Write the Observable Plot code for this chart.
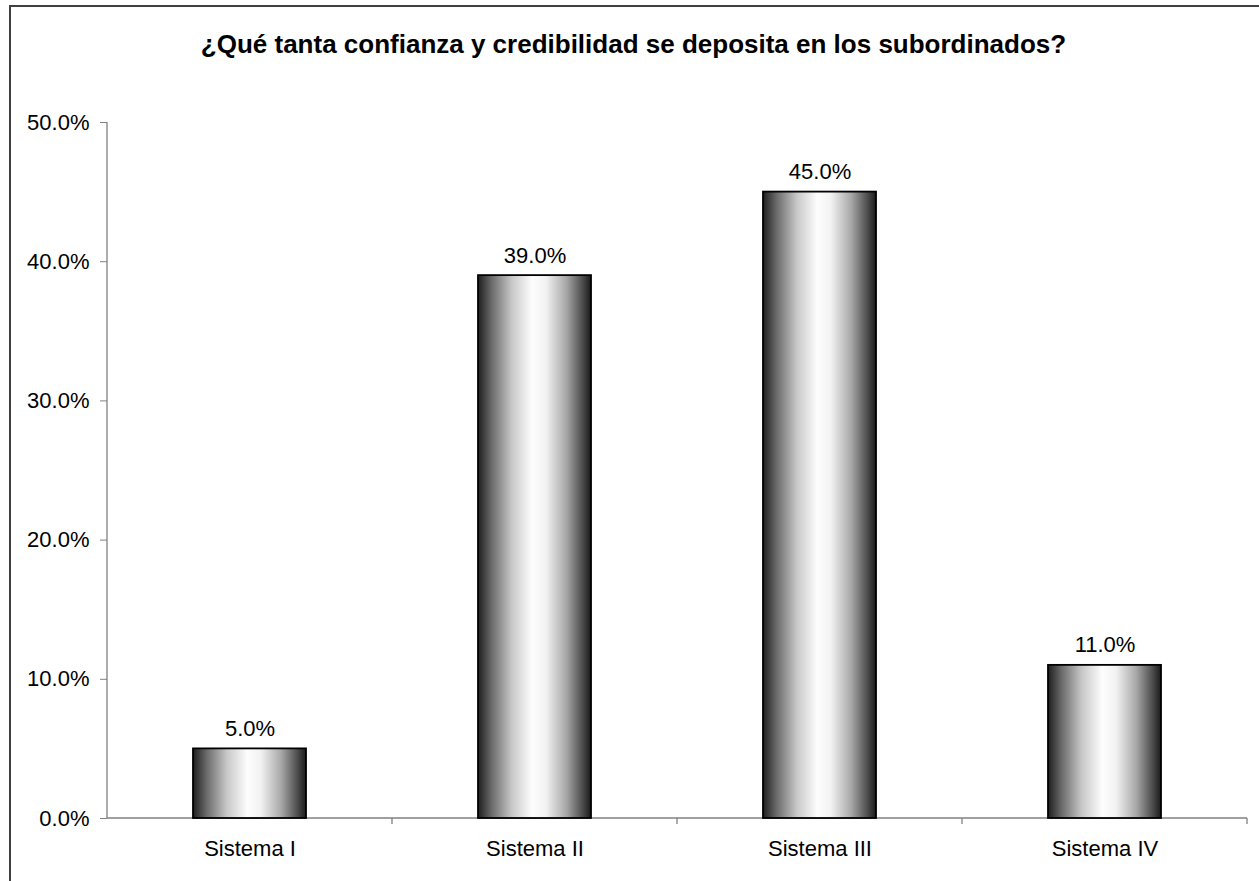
<!DOCTYPE html>
<html>
<head>
<meta charset="utf-8">
<script src="https://cdn.jsdelivr.net/npm/d3@7"></script>
<script src="https://cdn.jsdelivr.net/npm/@observablehq/plot@0.6"></script>
<style>
  html, body { margin: 0; padding: 0; background: #fff; }
  #wrap { position: relative; width: 1259px; height: 881px; overflow: hidden; font-family: "Liberation Sans", Arial, sans-serif; }
  #frame { position: absolute; left: 9px; top: 5px; width: 1400px; height: 1000px; border: 2px solid #404040; box-sizing: border-box; }
  #title { position: absolute; left: 4px; top: 0; width: 1259px; height: 90px; text-align: center; font-weight: bold; font-size: 26px; line-height: 26px; padding-top: 31px; box-sizing: border-box; color: #000; }
  #chart { position: absolute; left: 0; top: 90px; }
</style>
</head>
<body>
<div id="wrap">
  <div id="frame"></div>
  <div id="title">¿Qué tanta confianza y credibilidad se deposita en los subordinados?</div>
  <div id="chart"></div>
</div>
<script>
const categories = ["Sistema I", "Sistema II", "Sistema III", "Sistema IV"];
const values = [0.05, 0.39, 0.45, 0.11];
const yTicks = [0, 0.1, 0.2, 0.3, 0.4, 0.5];

const data = categories.map((c, i) => ({cat: c, val: values[i]}));
const fmt = d3.format(".1%");

function decorations(index, scales, values, dims) {
  const g = d3.create("svg:g");
  const defs = g.append("defs");
  const grad = defs.append("linearGradient").attr("id", "barGrad")
    .attr("x1", "0").attr("x2", "1").attr("y1", "0").attr("y2", "0");
  [[0, "#1e1e1e"], [0.12, "#6a6a6a"], [0.3, "#c8c8c8"], [0.48, "#fdfdfd"], [0.6, "#f2f2f2"], [0.78, "#a8a8a8"], [0.92, "#505050"], [1, "#1a1a1a"]]
    .forEach(([o, c]) => grad.append("stop").attr("offset", o).attr("stop-color", c));
  const x0 = dims.marginLeft, x1 = dims.width - dims.marginRight;
  const yb = dims.height - dims.marginBottom, yt = dims.marginTop;
  const axisColor = "#808080";
  g.append("line").attr("x1", x0).attr("x2", x0).attr("y1", yt).attr("y2", yb)
    .attr("stroke", axisColor).attr("stroke-width", 1.3);
  g.append("line").attr("x1", x0).attr("x2", x1).attr("y1", yb).attr("y2", yb)
    .attr("stroke", axisColor).attr("stroke-width", 1.3);
  const n = categories.length;
  for (let k = 1; k <= n; k++) {
    const xx = x0 + k * (x1 - x0) / n;
    g.append("line").attr("x1", xx).attr("x2", xx).attr("y1", yb).attr("y2", yb + 6)
      .attr("stroke", axisColor).attr("stroke-width", 1.3);
  }
  return g.node();
}

const chart = Plot.plot({
  width: 1259,
  height: 791,
  marginTop: 32,
  marginBottom: 63,
  marginLeft: 107,
  marginRight: 12,
  style: {fontFamily: "'Liberation Sans', Arial, sans-serif", fontSize: "22px", color: "#000", background: "transparent", overflow: "visible"},
  x: {domain: categories, padding: 0, tickSize: 0, tickPadding: 22, label: null},
  y: {domain: [0, 0.5], ticks: yTicks, tickFormat: fmt, tickSize: 7, tickPadding: 11, label: null},
  marks: [
    decorations,
    Plot.barY(data, {x: "cat", y: "val", fill: "url(#barGrad)", stroke: "#000", strokeWidth: 1.8, insetLeft: 86, insetRight: 86}),
    Plot.text(data, {x: "cat", y: "val", text: d => fmt(d.val), dy: -13, lineAnchor: "bottom", fontSize: 22, fill: "#000"})
  ]
});
d3.select(chart).selectAll("[aria-label='y-axis tick'] path, [aria-label='y-axis'] path").attr("stroke", "#808080");
document.getElementById("chart").appendChild(chart);
</script>
</body>
</html>
